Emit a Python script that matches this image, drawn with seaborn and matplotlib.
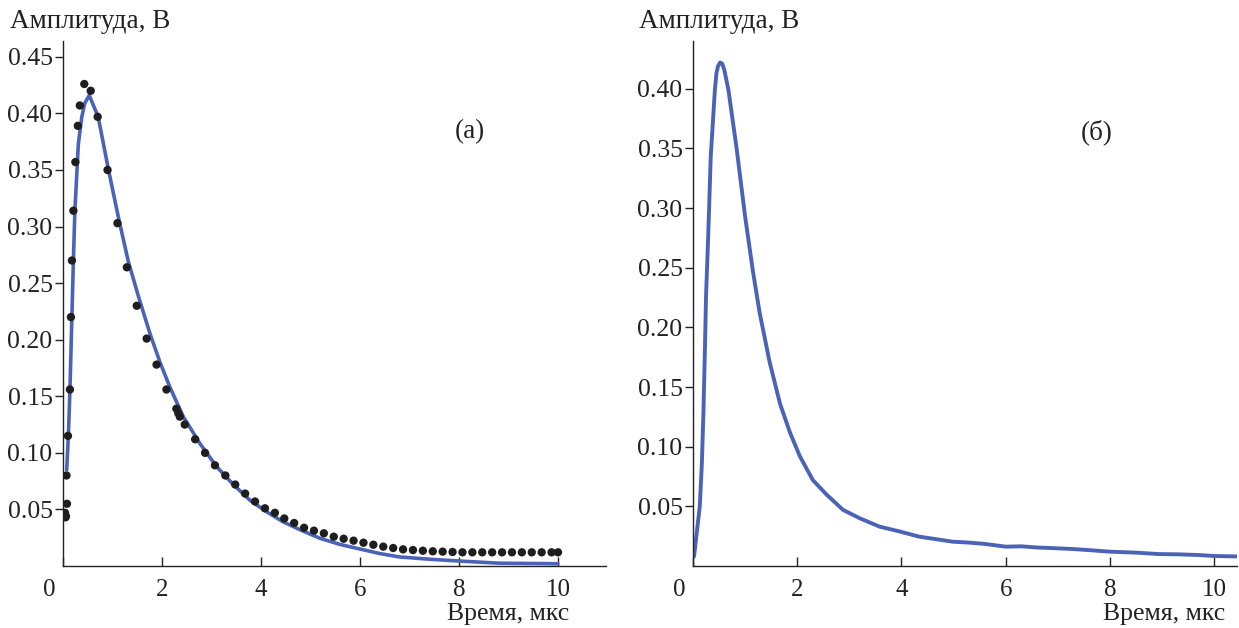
import numpy as np
import pandas as pd
import matplotlib
matplotlib.use("Agg")
import matplotlib.pyplot as plt
import matplotlib.transforms as mtransforms
import seaborn as sns

# (а) measured points
dots_t = [0.04, 0.05, 0.06, 0.07, 0.08, 0.10, 0.14, 0.16, 0.18, 0.21, 0.25, 0.30, 0.34,
          0.43, 0.56, 0.70, 0.90, 1.10, 1.29, 1.49, 1.69, 1.89, 2.09, 2.29, 2.33, 2.36,
          2.46, 2.67, 2.87, 3.07, 3.28, 3.48, 3.68, 3.88, 4.08, 4.28, 4.47, 4.67,
          4.87, 5.07, 5.27, 5.47, 5.67, 5.87, 6.07, 6.27, 6.47, 6.67, 6.87, 7.07, 7.27,
          7.47, 7.67, 7.87, 8.07, 8.27, 8.47, 8.67, 8.87, 9.07, 9.27, 9.47, 9.67, 9.87, 10.0]
dots_a = [0.047, 0.043, 0.044, 0.080, 0.055, 0.115, 0.156, 0.220, 0.270, 0.314, 0.357, 0.389, 0.407,
          0.426, 0.420, 0.397, 0.350, 0.303, 0.264, 0.230, 0.201, 0.178, 0.156, 0.139, 0.135, 0.132,
          0.125, 0.112, 0.100, 0.089, 0.080, 0.072, 0.064, 0.057, 0.051, 0.047, 0.042, 0.038,
          0.0338, 0.0312, 0.0289, 0.0259, 0.0241, 0.0224, 0.0206, 0.0188, 0.0171, 0.0159, 0.0147, 0.0141, 0.0135,
          0.0130, 0.0127, 0.0124, 0.0121, 0.0121, 0.0121, 0.0121, 0.0121, 0.0121, 0.0121, 0.0121, 0.0121, 0.0121, 0.0121]

# (а) fitted curve
fit_t = [0.075, 0.11, 0.14, 0.21, 0.24, 0.31, 0.38, 0.44, 0.53, 0.71, 0.92, 1.12, 1.32, 1.54,
         1.76, 1.96, 2.16, 2.43, 2.77, 3.10, 3.44, 3.78, 4.11, 4.45, 4.79, 5.19, 5.6, 6.0,
         6.4, 6.8, 7.4, 8.0, 8.8, 10.0]
fit_a = [0.085, 0.117, 0.155, 0.270, 0.314, 0.373, 0.397, 0.409, 0.416, 0.397, 0.350, 0.308, 0.269, 0.236,
         0.205, 0.180, 0.158, 0.132, 0.108, 0.088, 0.072, 0.058, 0.048, 0.039, 0.032, 0.0245, 0.019, 0.015,
         0.011, 0.008, 0.006, 0.0044, 0.0025, 0.002]

# (б) measured waveform
sig_t = [0.02, 0.13, 0.17, 0.20, 0.23, 0.25, 0.28, 0.31, 0.34, 0.38, 0.42, 0.45, 0.48, 0.52, 0.56, 0.60,
         0.68, 0.84, 1.00, 1.15, 1.28, 1.47, 1.67, 1.86, 2.05, 2.30, 2.56, 2.88, 3.20, 3.58, 3.96, 4.34,
         4.98, 5.3, 5.6, 6.0, 6.3, 6.6, 6.9, 7.3, 7.6, 8.0, 8.5, 8.94, 9.3, 9.7, 10.0, 10.44]
sig_a = [0.008, 0.050, 0.086, 0.128, 0.184, 0.226, 0.262, 0.301, 0.343, 0.371, 0.399, 0.413, 0.419, 0.422, 0.421, 0.416,
         0.399, 0.349, 0.293, 0.247, 0.212, 0.171, 0.136, 0.112, 0.092, 0.072, 0.060, 0.047, 0.040, 0.033, 0.029, 0.0246,
         0.0204, 0.0196, 0.0185, 0.0162, 0.0165, 0.0155, 0.0150, 0.0142, 0.0133, 0.0120, 0.0112, 0.0100, 0.0098, 0.0092, 0.0084, 0.008]

x_ticks = [0, 2, 4, 6, 8, 10]
y_ticks_a = [0.05, 0.10, 0.15, 0.20, 0.25, 0.30, 0.35, 0.40, 0.45]
y_ticks_b = [0.05, 0.10, 0.15, 0.20, 0.25, 0.30, 0.35, 0.40]

blue = "#4b63b7"

sns.set_style("ticks")
plt.rcParams['font.family'] = ['Liberation Serif', 'DejaVu Serif']
plt.rcParams['axes.linewidth'] = 1.0

fig = plt.figure(figsize=(12.39, 6.28), dpi=100)
W, H = 1239, 628
ax1 = fig.add_axes([63 / W, 1 - 566 / H, (606 - 63) / W, (566 - 41) / H])
ax2 = fig.add_axes([693 / W, 1 - 566 / H, (1237 - 693) / W, (566 - 41) / H])

sns.scatterplot(x=dots_t, y=dots_a, ax=ax1, color="#1e1e1e", s=36, edgecolor="none", zorder=3)
sns.lineplot(x=fit_t, y=fit_a, ax=ax1, color=blue, linewidth=2.6, zorder=2, sort=False)
sns.lineplot(x=sig_t, y=sig_a, ax=ax2, color=blue, linewidth=2.8, sort=False)

ax1.set_xlim(0, 10.97)
ax1.set_ylim(0, 0.464)
ax2.set_xlim(0, 10.44)
ax2.set_ylim(0, 0.44)

for ax, yt in ((ax1, y_ticks_a), (ax2, y_ticks_b)):
    sns.despine(ax=ax)
    ax.set_xticks(x_ticks)
    ax.set_xticklabels([str(v) for v in x_ticks])
    ax.set_yticks(yt)
    ax.set_yticklabels([f"{v:.2f}" for v in yt])
    ax.tick_params(axis='x', direction='in', length=6.5, width=1, pad=9, labelsize=18, colors="#222222")
    ax.tick_params(axis='y', direction='out', length=6, width=1, pad=1.5, labelsize=18.5, colors="#222222")
    ax.set_xlabel("")
    ax.set_ylabel("")
    for sp in ax.spines.values():
        sp.set_color("#222222")
    # shift the "0" label to the left of the axis
    lab0 = ax.get_xticklabels()[0]
    lab0.set_transform(lab0.get_transform() + mtransforms.ScaledTranslation(-14 / 100, 0, fig.dpi_scale_trans))

txt = dict(fontsize=19.5, color="#222222")
fig.text(10 / W, 1 - 22 / H, "Амплитуда, В", ha="left", va="center", **txt)
fig.text(639 / W, 1 - 22 / H, "Амплитуда, В", ha="left", va="center", **txt)
fig.text(569 / W, 1 - 614 / H, "Время, мкс", ha="right", va="center", fontsize=18.5, color="#222222")
fig.text(1225 / W, 1 - 614 / H, "Время, мкс", ha="right", va="center", fontsize=18.5, color="#222222")
fig.text(470 / W, 1 - 132 / H, "(а)", ha="center", va="center", **txt)
fig.text(1097 / W, 1 - 132 / H, "(б)", ha="center", va="center", **txt)

fig.savefig("out.png", dpi=100)
